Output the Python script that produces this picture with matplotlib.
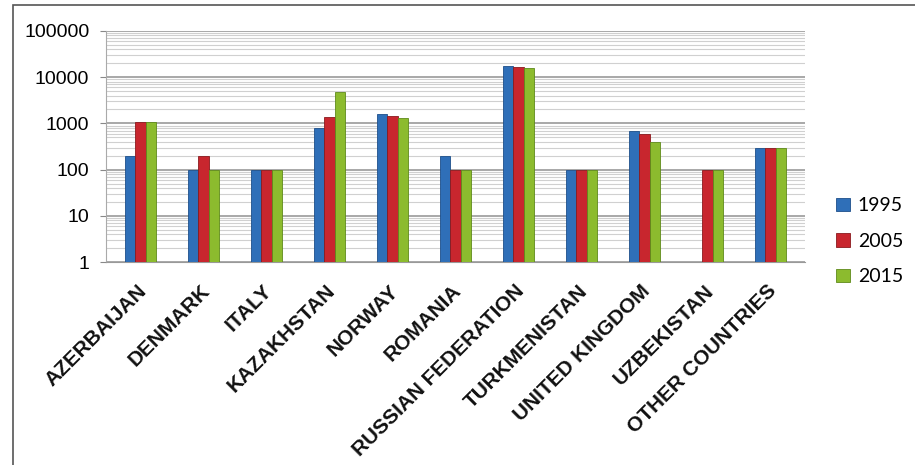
import numpy as np
import matplotlib.pyplot as plt
from matplotlib.patches import Rectangle

countries = ['AZERBAIJAN', 'DENMARK', 'ITALY', 'KAZAKHSTAN', 'NORWAY', 'ROMANIA',
             'RUSSIAN FEDERATION', 'TURKMENISTAN', 'UNITED KINGDOM', 'UZBEKISTAN',
             'OTHER COUNTRIES']
v1995 = [200, 100, 100, 800, 1620, 200, 17700, 100, 690, np.nan, 300]
v2005 = [1050, 200, 100, 1350, 1470, 100, 16400, 100, 600, 100, 300]
v2015 = [1050, 100, 100, 4700, 1290, 100, 15900, 100, 400, 100, 300]
years = ['1995', '2005', '2015']
colors = ['#2f6fb8', '#c8262e', '#8cbb2e']
edges = ['#1d4f8a', '#8a1a1e', '#5f8a1a']

fig = plt.figure(figsize=(9.15, 4.65), dpi=100)
# outer chart frame
fig.patches.append(Rectangle((13 / 915, -0.01), 1.0, 1 - 5 / 465 + 0.01,
                             transform=fig.transFigure, fill=False,
                             edgecolor='#555555', linewidth=1.2))

ax = fig.add_axes([106 / 915, 1 - 262 / 465, 699 / 915, 231 / 465])
x = np.arange(len(countries))
w = 0.165
for i, (vals, c, e, lab) in enumerate(zip([v1995, v2005, v2015], colors, edges, years)):
    ax.bar(x + (i - 1) * w, vals, width=w, color=c, edgecolor=e, linewidth=0.6,
           label=lab, zorder=3)

ax.set_yscale('log')
ax.set_ylim(1, 100000)
ax.set_xlim(-0.55, len(countries) - 0.45)
ax.set_yticks([1, 10, 100, 1000, 10000, 100000])
ax.set_yticklabels(['1', '10', '100', '1000', '10000', '100000'], fontsize=14,
                   family='Liberation Sans')
ax.yaxis.grid(True, which='major', color='#9a9a9a', linewidth=1.2, zorder=0)
ax.yaxis.grid(True, which='minor', color='#d0d0d0', linewidth=0.8, zorder=0)
ax.tick_params(axis='y', which='major', length=4, color='#888888', pad=8)
ax.tick_params(axis='y', which='minor', length=0)
ax.set_xticks(x - 0.06)
ax.set_xticklabels(countries, rotation=45, ha='right', rotation_mode='anchor',
                   fontsize=15, fontweight='bold', family='Liberation Sans',
                   color='#111111')
ax.tick_params(axis='x', length=0, pad=14)
for s in ['top', 'right']:
    ax.spines[s].set_visible(False)
ax.spines['left'].set_color('#aaaaaa')
ax.spines['bottom'].set_color('#999999')
ax.set_facecolor('white')

ax.legend(loc='center left', bbox_to_anchor=(1.02, 0.09), frameon=False,
          handlelength=0.7, handleheight=0.7, handletextpad=0.4, labelspacing=0.95,
          prop={'family': 'Lato', 'size': 14})

plt.savefig('out.png', dpi=100)
